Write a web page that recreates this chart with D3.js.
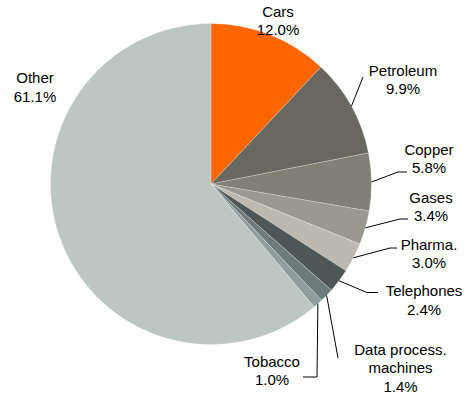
<!DOCTYPE html>
<html lang="en">
<head>
  <meta charset="UTF-8" />
  <title>Export shares</title>
  <script src="https://d3js.org/d3.v7.min.js"></script>
  <style>
    body {
      margin: 0;
      padding: 0;
      background: #fff;
      font-family: 'Liberation Sans', Arial, sans-serif;
    }
    .label text {
      font-size: 15px;
      fill: #000;
      text-anchor: middle;
    }
  </style>
</head>
<body>
  <div id="chart"></div>

  <script>
    // Data (clockwise from 12 o'clock)
    const categories = ["Cars", "Petroleum", "Copper", "Gases", "Pharma.", "Telephones", "Data process. machines", "Tobacco", "Other"];
    const shares = [12.0, 9.9, 5.8, 3.4, 3.0, 2.4, 1.4, 1.0, 61.1];
    const labelLines = [
      ["Cars"], ["Petroleum"], ["Copper"], ["Gases"], ["Pharma."],
      ["Telephones"], ["Data process.", "machines"], ["Tobacco"], ["Other"]
    ];
    const colors = ["#ff6600", "#686860", "#808075", "#9a998d", "#bcb9b1", "#4e5656", "#6d7b7a", "#8f9e9c", "#bec6c3"];

    // Label layout: centre x, first baseline, leader line points after the pie edge
    const labelPos = [
      { x: 278, y: 16.5, leader: null },
      { x: 403, y: 75.5, leader: [[363, 77]] },
      { x: 429, y: 154.5, leader: [[398, 172], [407, 172]] },
      { x: 431, y: 202.5, leader: [[400, 219], [408, 219]] },
      { x: 429, y: 249.5, leader: [[390, 248], [397, 248]] },
      { x: 424, y: 296, leader: [[367, 292.5], [378, 292.5]] },
      { x: 400.5, y: 354.5, leader: [[338, 358]] },
      { x: 272, y: 366.5, leader: [[317, 377], [303, 377]] },
      { x: 35, y: 83, leader: null }
    ];

    const width = 469, height = 396;
    const cx = 211, cy = 184, radius = 160.5;
    const lineH = 18.7;

    const data = categories.map((c, i) => ({ name: c, value: shares[i], lines: labelLines[i], color: colors[i], pos: labelPos[i] }));

    const svg = d3.select("#chart")
      .append("svg")
      .attr("width", width)
      .attr("height", height);

    const pie = d3.pie().sort(null).value(d => d.value);
    const arc = d3.arc().innerRadius(0).outerRadius(radius);
    const edgeArc = d3.arc().innerRadius(radius).outerRadius(radius);

    const arcs = pie(data);

    const g = svg.append("g").attr("transform", `translate(${cx},${cy})`);

    g.selectAll("path")
      .data(arcs)
      .enter()
      .append("path")
      .attr("d", arc)
      .attr("fill", d => d.data.color)
      .attr("stroke", "#fff")
      .attr("stroke-width", 0.4)
      .attr("stroke-opacity", 0.6);

    // Leader lines from slice edge to label
    const line = d3.line();
    svg.selectAll("path.leader")
      .data(arcs.filter(d => d.data.pos.leader))
      .enter()
      .append("path")
      .attr("class", "leader")
      .attr("fill", "none")
      .attr("stroke", "#000")
      .attr("stroke-width", 1)
      .attr("d", d => {
        const [ex, ey] = edgeArc.centroid(d);
        return line([[cx + ex, cy + ey]].concat(d.data.pos.leader));
      });

    // Labels: name lines then percentage
    const labels = svg.selectAll("g.label")
      .data(arcs)
      .enter()
      .append("g")
      .attr("class", "label");

    labels.append("text")
      .each(function(d) {
        const t = d3.select(this);
        const rows = d.data.lines.concat([d.data.value.toFixed(1) + "%"]);
        rows.forEach((r, i) => {
          t.append("tspan")
            .attr("x", d.data.pos.x)
            .attr("y", d.data.pos.y + i * lineH)
            .text(r);
        });
      });
  </script>
</body>
</html>
